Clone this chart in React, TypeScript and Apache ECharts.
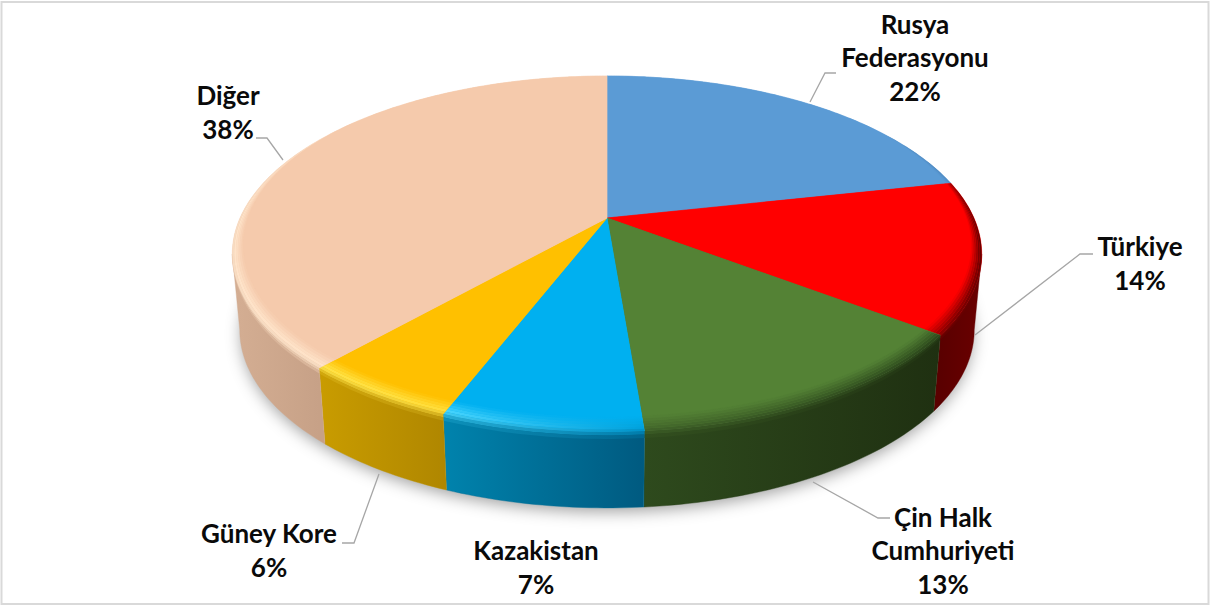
import React, { useEffect, useRef } from "react";
import * as echarts from "echarts";

const names = ["Rusya\nFederasyonu", "Türkiye", "Çin Halk\nCumhuriyeti", "Kazakistan", "Güney Kore", "Diğer"];
const values = [21.6, 13.7, 13.4, 7.2, 5.7, 38.4];
const topColors = ["#5b9bd5", "#ff0000", "#548235", "#00b0f0", "#ffc000", "#f5caac"];
const wallLeft = ["#4a7fb0", "#5a0000", "#2e4a1d", "#0083ad", "#c99c00", "#d4ae93"];
const wallRight = ["#3a6690", "#6a0000", "#1f3011", "#005a80", "#b08700", "#c7a187"];
const rimLeft = ["#4f8cc4", "#9a0000", "#44692b", "#4dd8ff", "#ffe64d", "#ffe6cc"];
const rimRight = ["#4f8cc4", "#6a0000", "#31501f", "#00a0da", "#ffe040", "#ffe3c8"];
const labelCenters = [[915, 57], [1140, 263], [943, 550], [536, 567], [269, 550], [228, 112]];
const leaders = [
  [[810, 102], [825, 73], [836, 73]],
  [[975, 335], [1080, 254], [1093, 254]],
  [[813, 482], [878, 518], [890, 518]],
  null,
  [[379, 474], [354, 543], [342, 543]],
  [[283, 160], [267, 138], [256, 138]],
];

const CX = 607, CY = 218, A = 170.7, B = 367, K = 0.202, DEPTH = 76, BOTTOM_SHRINK = 0.02;
const total = values.reduce((s, v) => s + v, 0);
const starts: number[] = [];
values.reduce((s, v, i) => { starts[i] = s; return s + v; }, 0);
const toDeg = (v: number) => (v / total) * 360;

function project(deg: number, r = 1, dy = 0): [number, number] {
  const t = (deg * Math.PI) / 180;
  const X = r * Math.sin(t), Y = r * Math.cos(t), w = 1 + K * Y;
  const sx = 1 - (BOTTOM_SHRINK * dy) / DEPTH;
  return [CX + ((B * X) / w) * sx, CY - (A * Y) / w + dy];
}
function arcDegs(a: number, b: number): number[] {
  const n = Math.max(2, Math.ceil(b - a));
  const out: number[] = [];
  for (let i = 0; i <= n; i++) out.push(a + ((b - a) * i) / n);
  return out;
}
function mix(c1: string, c2: string, t: number): string {
  const p = (c: string) => [1, 3, 5].map((i) => parseInt(c.slice(i, i + 2), 16));
  const a = p(c1), b = p(c2);
  return "rgb(" + a.map((v, i) => Math.round(v + (b[i] - v) * t)).join(",") + ")";
}
// visible part of the outer wall: front of the silhouette's extreme points
const wallFrom = (Math.acos(-K) * 180) / Math.PI;
const wallTo = 360 - wallFrom;

function renderShadow() {
  const pts = arcDegs(0, 360).map((d) => project(d, 0.995, DEPTH));
  return {
    type: "polygon",
    shape: { points: pts },
    style: { fill: "#ffffff", shadowBlur: 16, shadowColor: "rgba(0,0,0,0.38)", shadowOffsetY: 5 },
  };
}
function renderWall(params: any) {
  const i = params.dataIndex;
  const a = Math.max(toDeg(starts[i]), wallFrom);
  const b = Math.min(toDeg(starts[i] + values[i]), wallTo);
  if (b <= a) return { type: "group", children: [] };
  const degs = arcDegs(a, b);
  const top = degs.map((d) => project(d));
  const bottom = degs.map((d) => project(d, 1, DEPTH)).reverse();
  const xs = top.map((p) => p[0]);
  const x0 = Math.min(...xs), x1 = Math.max(...xs);
  return {
    type: "polygon",
    shape: { points: top.concat(bottom) },
    style: {
      fill: new echarts.graphic.LinearGradient(x0, 0, x1, 0, [
        { offset: 0, color: wallLeft[i] },
        { offset: 1, color: wallRight[i] },
      ], true),
      stroke: mix(wallLeft[i], wallRight[i], 0.5),
      lineWidth: 0.4,
    },
  };
}
function bandCurve(degs: number[], s: number): [number, number][] {
  return degs.map((d) => {
    const Y = Math.cos((d * Math.PI) / 180);
    const inset = 0.058 * Math.max(0, (0.6 - Y) / 1.6);
    const front = Math.max(0, (0.4 - Y) / 1.4);
    const sIn = Math.min(1, s / 0.75);
    const down = s > 0.75 ? ((s - 0.75) / 0.25) * 7 * front : 0;
    return project(d, 1 - inset * (1 - sIn), down);
  });
}
function renderTop(params: any) {
  const i = params.dataIndex;
  const a = toDeg(starts[i]), b = toDeg(starts[i] + values[i]);
  const degs = arcDegs(a, b);
  const outer = degs.map((d) => project(d));
  const children: any[] = [];
  const xs = outer.map((p) => p[0]);
  const x0 = Math.min(...xs), x1 = Math.max(...xs);
  const STRIPS = 8;
  for (let k = 0; k < STRIPS; k++) {
    const s0 = k / STRIPS, s1 = (k + 1) / STRIPS, s = (s0 + s1) / 2;
    const col = (rim: string, wall: string) =>
      s < 0.62 ? mix(topColors[i], rim, s / 0.62) : mix(rim, wall, (s - 0.62) / 0.38);
    const da = s1 > 0.75 ? Math.max(a, wallFrom) : a;
    const db = s1 > 0.75 ? Math.min(b, wallTo) : b;
    if (db <= da) continue;
    const d2 = arcDegs(da, db);
    children.push({
      type: "polygon",
      shape: { points: bandCurve(d2, s0).concat(bandCurve(d2, s1).reverse()) },
      style: {
        fill: new echarts.graphic.LinearGradient(x0, 0, x1, 0, [
          { offset: 0, color: col(rimLeft[i], wallLeft[i]) },
          { offset: 1, color: col(rimRight[i], wallRight[i]) },
        ], true),
      },
    });
  }
  const face = [[CX, CY] as [number, number]].concat(bandCurve(degs, 0));
  children.unshift({
    type: "polygon",
    shape: { points: [[CX, CY] as [number, number]].concat(outer) },
    style: { fill: topColors[i], stroke: topColors[i], lineWidth: 0.4 },
  });
  children.push({
    type: "polygon",
    shape: { points: face },
    style: { fill: topColors[i], stroke: topColors[i], lineWidth: 0.4 },
  });
  return { type: "group", children };
}
function renderLabel(params: any) {
  const i = params.dataIndex;
  const children: any[] = [
    {
      type: "text",
      style: {
        x: labelCenters[i][0],
        y: labelCenters[i][1],
        text: names[i] + "\n" + Math.round(values[i]) + "%",
        align: "center",
        verticalAlign: "middle",
        fill: "#0a0a0a",
        fontFamily: "Lato",
        fontWeight: "bold",
        fontSize: 26,
        lineHeight: 33.5,
      },
    },
  ];
  const l = leaders[i];
  if (l) {
    children.push({
      type: "polyline",
      shape: { points: l },
      style: { stroke: "#a6a6a6", lineWidth: 1.3, fill: "none" },
    });
  }
  return { type: "group", children };
}

export default function App() {
  const ref = useRef<HTMLDivElement>(null);
  useEffect(() => {
    document.body.style.margin = "0";
    const chart = echarts.init(ref.current!, undefined, { renderer: "svg" });
    const common = { type: "custom", coordinateSystem: "none", silent: true, animation: false };
    chart.setOption({
      animation: false,
      backgroundColor: "#ffffff",
      graphic: [
        {
          type: "rect",
          z: -1,
          shape: { x: 1.5, y: 2, width: 1207, height: 602 },
          style: { fill: "#ffffff", stroke: "#d9d9d9", lineWidth: 2 },
        },
      ],
      series: [
        { ...common, z: 1, data: [values[0]], renderItem: renderShadow },
        { ...common, z: 2, data: values, renderItem: renderWall },
        { ...common, z: 3, data: values, renderItem: renderTop },
        { ...common, z: 4, data: values, renderItem: renderLabel },
      ],
    });
    return () => chart.dispose();
  }, []);
  return <div ref={ref} style={{ width: 1212, height: 606 }} />;
}
